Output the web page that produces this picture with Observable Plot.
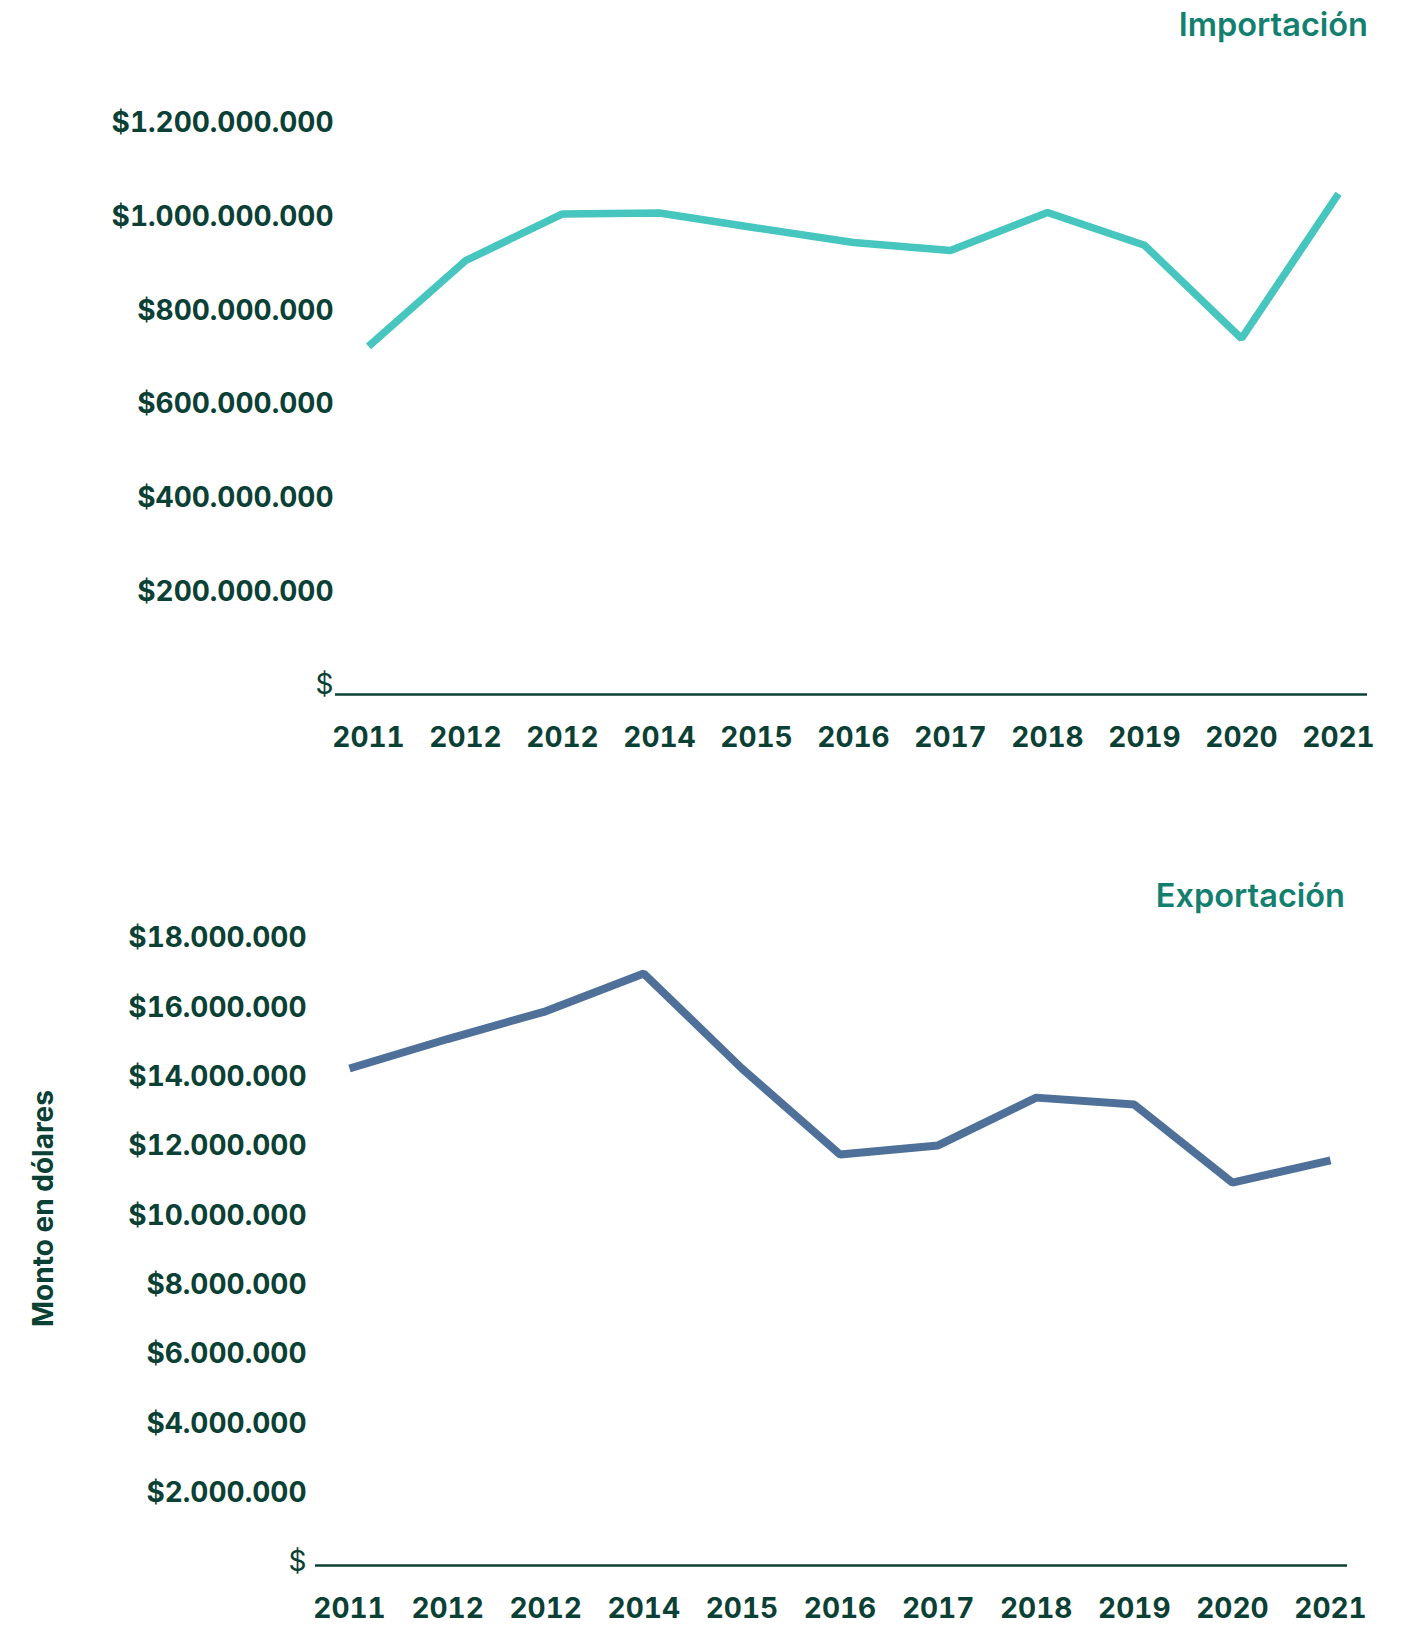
<!DOCTYPE html>
<html><head><meta charset="utf-8">
<script src="https://cdn.jsdelivr.net/npm/d3@7"></script>
<script src="https://cdn.jsdelivr.net/npm/@observablehq/plot@0.6"></script>
<style>
body{margin:0;background:#fff;font-family:Inter, sans-serif;}
#wrap{width:1411px;}
.title{color:#13806f;font-weight:600;font-size:32.5px;text-align:right;font-family:Inter, sans-serif;box-sizing:border-box;}
svg{display:block;}
</style></head><body>
<div id="wrap">
<div class="title" style="height:50px;line-height:50px;padding-right:43px;">Importación</div>
<div id="top"></div>
<div class="title" style="height:140px;line-height:40px;padding-top:96px;padding-right:66px;">Exportación</div>
<div id="bottom"></div>
</div>
<script>
const years = ["2011","2012","2012","2014","2015","2016","2017","2018","2019","2020","2021"];
const importacion = [724e6, 907e6, 1007e6, 1009e6, 977e6, 946e6, 929e6, 1010e6, 940e6, 741e6, 1050e6];
const exportacion = [14.25e6, 15.1e6, 15.9e6, 16.99e6, 14.25e6, 11.77e6, 12.03e6, 13.41e6, 13.21e6, 10.96e6, 11.6e6];
const importTicks = [0, 2e8, 4e8, 6e8, 8e8, 1e9, 1.2e9];
const exportTicks = [0, 2e6, 4e6, 6e6, 8e6, 10e6, 12e6, 14e6, 16e6, 18e6];
const yLabel = "Monto en dólares";

const ink = "#0b4035";
const fmt = d => d === 0 ? "$" : "$" + d3.format(",")(d).replace(/,/g, ".");
const idx = d3.range(years.length);

function fixZero(svg){
  d3.select(svg).selectAll("text").filter(function(){ return this.textContent === "$"; })
    .attr("font-weight", 400);
}

const topPlot = Plot.plot({
  width: 1411, height: 730,
  marginLeft: 335, marginRight: 44, marginTop: 73, marginBottom: 95,
  style: {fontFamily: "Inter, sans-serif", fontSize: "28px", color: ink, background: "#fff"},
  x: {type: "linear", domain: [0, 10], range: [368, 1338], axis: null},
  y: {domain: [0, 1.2e9], axis: null},
  marks: [
    Plot.axisY(importTicks, {tickSize: 0, tickPadding: 2, tickFormat: fmt, fontSize: 28, fontWeight: 700, fill: ink}),
    Plot.axisX(idx, {tickSize: 0, tickPadding: 42, tickFormat: i => years[i], fontSize: 28, fontWeight: 700, fill: ink}),
    Plot.ruleY([0], {dy: 9, stroke: ink, strokeWidth: 2.5}),
    Plot.line(importacion, {x: (d, i) => i, y: d => d, stroke: "#47c5bf", strokeWidth: 7.5, strokeLinejoin: "miter", strokeLinecap: "butt"})
  ]
});
fixZero(topPlot);
document.getElementById("top").append(topPlot);

const bottomPlot = Plot.plot({
  width: 1411, height: 705,
  marginLeft: 315, marginRight: 64, marginTop: 18, marginBottom: 63,
  style: {fontFamily: "Inter, sans-serif", fontSize: "28px", color: ink, background: "#fff"},
  x: {type: "linear", domain: [0, 10], range: [349, 1330], axis: null},
  y: {domain: [0, 18e6], axis: null},
  marks: [
    Plot.axisY(exportTicks, {tickSize: 0, tickPadding: 9, tickFormat: fmt, fontSize: 28, fontWeight: 700, fill: ink}),
    Plot.axisX(idx, {tickSize: 0, tickPadding: 36, tickFormat: i => years[i], fontSize: 28, fontWeight: 700, fill: ink}),
    Plot.ruleY([0], {dy: 3, stroke: ink, strokeWidth: 2.5}),
    Plot.line(exportacion, {x: (d, i) => i, y: d => d, stroke: "#4f7199", strokeWidth: 8, strokeLinejoin: "miter", strokeLinecap: "butt"}),
    Plot.text([yLabel], {text: d => d, frameAnchor: "left", textAnchor: "middle", dx: -271, dy: -42, rotate: -90, fontSize: 28, fontWeight: 700, fill: ink})
  ]
});
fixZero(bottomPlot);
document.getElementById("bottom").append(bottomPlot);
</script>
</body></html>
